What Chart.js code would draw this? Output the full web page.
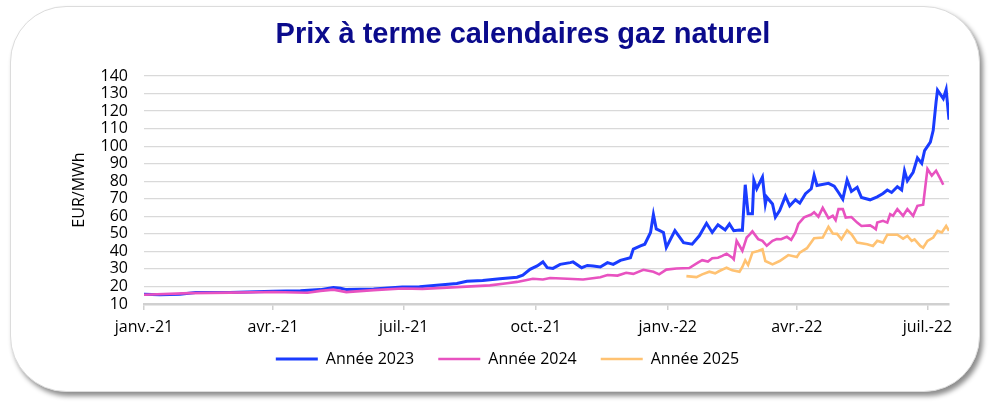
<!DOCTYPE html>
<html><head><meta charset="utf-8">
<script src="https://cdn.jsdelivr.net/npm/chart.js@4.4.1/dist/chart.umd.min.js"></script>
<style>
html,body{margin:0;padding:0;background:#fff;}
#wrap{position:relative;width:992px;height:407px;}
#box{position:absolute;left:10px;top:6px;width:968px;height:384px;background:#fff;border:1px solid #dcdcdc;border-radius:56px;box-shadow:3px 4px 5px rgba(0,0,0,0.45);}
canvas{position:absolute;left:0;top:0;}
</style></head><body>
<div id="wrap"><div id="box"></div><canvas id="c" width="992" height="407"></canvas></div>
<script>
const chartTitle = "Prix à terme calendaires gaz naturel";
const yTitle = "EUR/MWh";
const seriesNames = ["Année 2023", "Année 2024", "Année 2025"];
const tickDays = [0, 90, 181, 273, 365, 455, 546];
const tickLabels = ["janv.-21", "avr.-21", "juil.-21", "oct.-21", "janv.-22", "avr.-22", "juil.-22"];

const days2023 = [0,11,25,36,60,90,109,123,132,137,141,160,180,192,206,218,225,236,248,260,264,269,274,278,281,285,290,297,299,305,309,313,318,323,327,332,339,341,346,349,353,355,357,362,364,370,376,382,387,392,396,400,405,408,411,415,417,419,421,424,425,427,431,433,434,438,440,443,447,450,454,457,461,465,467,469,477,481,484,487,490,493,497,500,506,511,515,518,521,525,528,530,532,536,539,542,544,548,550,552,553,557,559,561];
const prix2023 = [15.5,15.3,15.6,16.5,16.6,17.2,17.5,18.2,19.4,19.0,18.2,18.5,19.7,19.8,20.8,21.7,23.0,23.4,24.4,25.3,26.5,29.8,31.7,34.0,30.7,30.3,32.6,33.6,34.0,30.7,32.0,31.7,31.1,33.6,32.6,34.9,36.4,41.3,43.2,44.1,50.8,61.0,52.8,50.8,42.2,51.8,45.0,44.1,48.9,56.0,50.8,55.2,52.2,55.6,51.8,52.2,52.0,78.0,61.5,61.5,80.5,75.7,82.4,67.0,70.9,67.0,59.5,63.3,71.5,66.0,69.4,67.5,72.9,75.7,83.4,77.6,78.8,77.2,73.6,69.8,80.7,74.2,76.5,70.7,69.4,71.1,73.0,75.0,73.6,76.9,75.0,85.9,80.3,85.1,93.3,90.2,97.5,102.3,109.0,125.2,131.9,127.1,132.3,115.1];

const days2024 = [0,32,60,90,114,123,132,141,160,180,194,218,241,253,260,271,278,283,295,306,318,323,330,336,341,348,355,359,364,371,380,386,389,393,396,400,403,406,410,411,413,415,417,420,422,424,428,431,434,438,441,444,448,451,454,456,458,460,465,467,470,473,477,480,482,484,487,489,493,497,500,506,508,510,511,515,518,520,522,525,529,532,536,539,543,545,546,549,552,555,557];
const prix2024 = [15.3,16.2,16.5,16.8,16.4,17.5,18.2,16.8,17.9,18.8,18.6,19.6,20.6,21.8,22.6,24.4,24.0,24.8,24.4,24.0,25.3,26.5,26.2,27.8,27.2,29.5,28.4,26.9,29.6,30.2,30.5,33.6,35.0,34.2,36.1,36.4,37.4,38.7,36.4,35.5,46.0,43.2,40.3,47.9,49.5,51.4,47.0,46.0,43.2,46.0,47.0,46.9,48.3,46.6,50.8,55.6,57.5,59.4,61.0,62.3,59.8,64.8,58.9,60.3,57.8,64.1,64.1,59.3,59.6,56.4,54.5,54.8,53.9,52.6,56.4,57.4,56.4,61.2,60.3,64.1,60.3,64.1,60.3,66.0,66.6,80.3,87.0,83.2,86.0,81.3,78.0];

const days2025 = [378,385,389,394,398,401,406,410,415,417,419,421,424,428,431,433,438,443,449,455,457,462,467,473,477,480,483,486,490,493,497,504,508,511,515,518,525,529,532,535,537,541,543,546,550,553,556,559,561];
const prix2025 = [25.9,25.3,26.9,28.4,27.5,28.8,30.7,29.2,28.4,31.1,34.9,32.2,39.3,40.2,41.2,34.5,32.6,34.5,37.9,36.8,39.3,41.8,47.5,47.9,54.0,50.2,50.0,46.9,52.1,49.8,45.0,44.1,43.1,46.0,45.0,49.5,49.5,47.3,48.8,46.0,46.9,43.1,42.1,46.0,47.9,51.7,50.8,54.5,51.7];

const colors = ["#1a3cff", "#e852c0", "#ffc272"];
const widths = [3, 2.6, 2.6];

function pts(d, v){ return d.map((x,i)=>({x:x, y:v[i]})); }
const allDays = [days2023, days2024, days2025];
const allPrix = [prix2023, prix2024, prix2025];

const titlePlugin = {
  id: 'titleText',
  afterLayout(chart){
    // let x tick labels overflow their (compact) box without being clipped
    const xs = chart.scales.x;
    xs.bottom = xs.top + 45;
  },
  afterDraw(chart){
    const ctx = chart.ctx;
    ctx.save();
    ctx.font = "bold 29px 'Liberation Sans', Arial, sans-serif";
    ctx.fillStyle = "#0b0b8c";
    ctx.textAlign = "center";
    ctx.textBaseline = "alphabetic";
    ctx.fillText(chartTitle, 523, 43);
    ctx.restore();
  }
};

Chart.defaults.font.family = "'Open Sans', sans-serif";
Chart.defaults.color = "#000";

new Chart(document.getElementById('c'), {
  type: 'line',
  data: {
    datasets: seriesNames.map((n,i)=>({
      label: n,
      data: pts(allDays[i], allPrix[i]),
      borderColor: colors[i],
      backgroundColor: colors[i],
      borderWidth: widths[i],
      pointRadius: 0,
      tension: 0,
      order: 3 - i
    }))
  },
  options: {
    responsive: false,
    animation: false,
    layout: { padding: { left: 66, right: 43, top: 76, bottom: 30 } },
    plugins: {
      tooltip: { enabled: false },
      legend: {
        position: 'bottom',
        labels: {
          usePointStyle: true,
          pointStyle: 'line',
          pointStyleWidth: 42,
          padding: 24,
          font: { size: 16 },
          color: '#000',
          sort: (a,b)=>a.datasetIndex-b.datasetIndex
        }
      }
    },
    scales: {
      x: {
        type: 'linear',
        min: 0, max: 561,
        afterBuildTicks(scale){ scale.ticks = tickDays.map(v=>({value:v})); },
        afterFit(scale){ scale.height = 23; },
        ticks: {
          autoSkip: false, maxRotation: 0, padding: 8,
          font: { size: 16 }, color: '#000',
          callback: (v)=>{ const k = tickDays.indexOf(v); return k>=0 ? tickLabels[k] : ''; }
        },
        grid: { drawOnChartArea: false, drawTicks: true, tickLength: 6, color: '#d0d0d0', lineWidth: 1.5 },
        border: { display: true, color: '#d0d0d0', width: 2.5 }
      },
      y: {
        min: 10, max: 140,
        afterFit(scale){ scale.width = 78; },
        ticks: { stepSize: 10, autoSkip: false, padding: 16, font: { size: 16 }, color: '#000' },
        grid: { color: '#d9d9d9', lineWidth: 1.3, drawTicks: false },
        border: { display: false },
        title: { display: true, text: yTitle, font: { size: 16 }, color: '#000', padding: { top: 4, bottom: 4 } }
      }
    }
  },
  plugins: [titlePlugin]
});
</script>
</body></html>
